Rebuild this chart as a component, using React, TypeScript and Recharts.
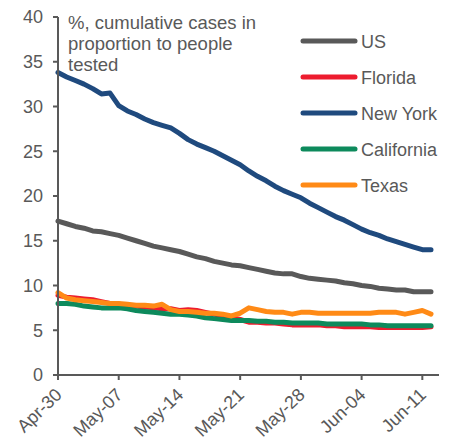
import React from 'react'
import { LineChart, Line, XAxis, YAxis, Legend } from 'recharts'

const dates = [
    'Apr-30',
    'May-01', 'May-02', 'May-03', 'May-04', 'May-05', 'May-06', 'May-07', 'May-08', 'May-09', 'May-10',
    'May-11', 'May-12', 'May-13', 'May-14', 'May-15', 'May-16', 'May-17', 'May-18', 'May-19', 'May-20',
    'May-21', 'May-22', 'May-23', 'May-24', 'May-25', 'May-26', 'May-27', 'May-28', 'May-29', 'May-30',
    'May-31',
    'Jun-01', 'Jun-02', 'Jun-03', 'Jun-04', 'Jun-05', 'Jun-06', 'Jun-07', 'Jun-08', 'Jun-09', 'Jun-10',
    'Jun-11', 'Jun-12',
]

const us = [
    17.2, 16.9, 16.6, 16.4, 16.1, 16.0, 15.8, 15.6, 15.3, 15.0, 14.7, 14.4, 14.2, 14.0, 13.8,
    13.5, 13.2, 13.0, 12.7, 12.5, 12.3, 12.2, 12.0, 11.8, 11.6, 11.4, 11.3, 11.3, 11.0, 10.8,
    10.7, 10.6, 10.5, 10.3, 10.2, 10.0, 9.9, 9.7, 9.6, 9.5, 9.5, 9.3, 9.3, 9.3,
]
const florida = [
    8.9, 8.7, 8.6, 8.5, 8.4, 8.2, 8.0, 7.9, 7.8, 7.7, 7.6, 7.5, 7.4, 7.4, 7.2,
    7.3, 7.2, 7.0, 6.8, 6.6, 6.4, 6.2, 5.9, 5.9, 5.8, 5.8, 5.7, 5.6, 5.6, 5.6,
    5.6, 5.5, 5.5, 5.4, 5.4, 5.4, 5.4, 5.3, 5.3, 5.3, 5.3, 5.3, 5.3, 5.4,
]
const newYork = [
    33.8, 33.3, 32.9, 32.5, 32.0, 31.4, 31.5, 30.1, 29.5, 29.1, 28.6, 28.2, 27.9, 27.6, 27.0,
    26.3, 25.8, 25.4, 25.0, 24.5, 24.0, 23.5, 22.8, 22.2, 21.7, 21.1, 20.6, 20.2, 19.8, 19.2,
    18.7, 18.2, 17.7, 17.3, 16.8, 16.3, 15.9, 15.6, 15.2, 14.9, 14.6, 14.3, 14.0, 14.0,
]
const california = [
    8.0, 8.0, 7.9, 7.7, 7.6, 7.5, 7.5, 7.5, 7.4, 7.2, 7.1, 7.0, 6.9, 6.8, 6.8,
    6.7, 6.6, 6.4, 6.3, 6.2, 6.1, 6.1, 6.1, 6.0, 6.0, 5.9, 5.9, 5.8, 5.8, 5.8,
    5.8, 5.7, 5.7, 5.7, 5.7, 5.7, 5.6, 5.6, 5.5, 5.5, 5.5, 5.5, 5.5, 5.5,
]
const texas = [
    9.2, 8.6, 8.4, 8.3, 8.2, 8.1, 8.0, 8.0, 7.9, 7.8, 7.8, 7.7, 7.9, 7.3, 7.1,
    7.1, 7.0, 6.9, 6.9, 6.8, 6.6, 6.9, 7.5, 7.3, 7.1, 7.0, 7.0, 6.8, 7.0, 7.0,
    6.9, 6.9, 6.9, 6.9, 6.9, 6.9, 6.9, 7.0, 7.0, 7.0, 6.8, 7.0, 7.2, 6.8,
]

const yTicks = [0, 5, 10, 15, 20, 25, 30, 35, 40]

// drawing order matches the legend; later series sit on top
const series = [
    { key: 'us', name: 'US', color: '#595959' },
    { key: 'florida', name: 'Florida', color: '#ED1C2E' },
    { key: 'newYork', name: 'New York', color: '#1F4A7E' },
    { key: 'california', name: 'California', color: '#0D8A5C' },
    { key: 'texas', name: 'Texas', color: '#FF8A16' },
]

const data = dates.map((date, i) => ({
    date,
    us: us[i],
    florida: florida[i],
    newYork: newYork[i],
    california: california[i],
    texas: texas[i],
}))

const FONT = '"Liberation Sans", Arial, sans-serif'
const GREY = '#595959'

const XTick = (props: any) => {
    const { x, y, payload } = props
    return (
        <text
            x={x + 5}
            y={y + 14}
            transform={`rotate(-44, ${x + 5}, ${y + 14})`}
            textAnchor='end'
            fill={GREY}
            fontSize={18}
            fontFamily={FONT}
        >
            {payload.value}
        </text>
    )
}

const LegendBox = () => (
    <svg width={160} height={200} style={{ display: 'block' }}>
        {series.map((s, i) => (
            <g key={s.key}>
                <line
                    x1={5}
                    x2={57}
                    y1={41 + i * 36}
                    y2={41 + i * 36}
                    stroke={s.color}
                    strokeWidth={5}
                    strokeLinecap='round'
                />
                <text
                    x={63}
                    y={41 + i * 36 + 6.5}
                    fill={GREY}
                    fontSize={18}
                    fontFamily={FONT}
                >
                    {s.name}
                </text>
            </g>
        ))}
    </svg>
)

export default function App() {
    return (
        <div style={{ position: 'absolute', left: 0, top: 0, width: 460, height: 437, background: '#fff' }}>
            <LineChart
                width={460}
                height={437}
                data={data}
                margin={{ top: 17, right: 21, left: 0, bottom: 0 }}
            >
                <XAxis
                    dataKey='date'
                    interval={6}
                    padding={{ left: 0, right: 8 }}
                    axisLine={{ stroke: GREY, strokeWidth: 2 }}
                    tickLine={{ stroke: GREY, strokeWidth: 2 }}
                    tickSize={5}
                    tick={<XTick />}
                    height={62}
                />
                <YAxis
                    type='number'
                    domain={[0, 40]}
                    ticks={yTicks}
                    width={58}
                    axisLine={{ stroke: GREY, strokeWidth: 2 }}
                    tickLine={{ stroke: GREY, strokeWidth: 2 }}
                    tickSize={5}
                    tickMargin={10}
                    tick={{ fill: GREY, fontSize: 18, fontFamily: FONT }}
                />
                <Legend
                    layout='vertical'
                    align='center'
                    verticalAlign='middle'
                    wrapperStyle={{ position: 'absolute', left: 298, top: 0, width: 160, height: 200 }}
                    content={() => <LegendBox />}
                />
                {series.map(s => (
                    <Line
                        key={s.key}
                        type='linear'
                        dataKey={s.key}
                        name={s.name}
                        stroke={s.color}
                        strokeWidth={5}
                        strokeLinejoin='round'
                        strokeLinecap='round'
                        dot={false}
                        isAnimationActive={false}
                    />
                ))}
            </LineChart>
            <div
                style={{
                    position: 'absolute',
                    left: 68,
                    top: 12,
                    fontFamily: FONT,
                    fontSize: 18.5,
                    lineHeight: '21px',
                    color: GREY,
                    pointerEvents: 'none',
                }}
            >
                %, cumulative cases in
                <br />
                proportion to people
                <br />
                tested
            </div>
        </div>
    )
}
